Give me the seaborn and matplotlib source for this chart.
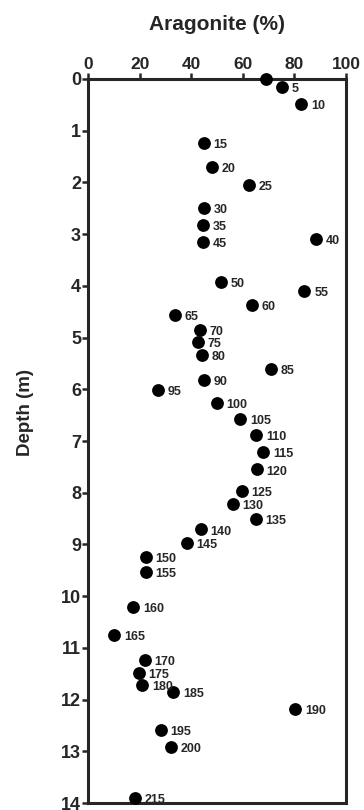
import matplotlib
matplotlib.use("Agg")
import matplotlib.pyplot as plt
import pandas as pd
import seaborn as sns

# sample number, aragonite (%), depth (m)
sample_ids = [0, 5, 10, 15, 20, 25, 30, 35, 40, 45, 50, 55, 60, 65, 70, 75, 80,
              85, 90, 95, 100, 105, 110, 115, 120, 125, 130, 135, 140, 145, 150,
              155, 160, 165, 170, 175, 180, 185, 190, 195, 200, 215]
aragonite = [69, 75, 82.6, 44.9, 48.2, 62.5, 44.8, 44.5, 88.4, 44.5, 51.5, 83.9,
             63.4, 33.7, 43.3, 42.7, 44.3, 70.8, 45.1, 27.2, 49.9, 59.0, 65.2,
             68.0, 65.4, 59.6, 56.1, 65.1, 43.6, 38.2, 22.4, 22.4, 17.5, 10.1,
             22.0, 19.6, 21.1, 33.0, 80.4, 28.2, 32.2, 18.3]
depth = [0.0, 0.16, 0.49, 1.24, 1.71, 2.05, 2.49, 2.82, 3.09, 3.16, 3.92, 4.09,
         4.37, 4.57, 4.86, 5.09, 5.33, 5.60, 5.82, 6.01, 6.26, 6.57, 6.88, 7.21,
         7.55, 7.97, 8.22, 8.51, 8.71, 8.98, 9.25, 9.54, 10.21, 10.75, 11.24,
         11.49, 11.72, 11.85, 12.18, 12.58, 12.92, 13.9]

x_ticks = [0, 20, 40, 60, 80, 100]
y_ticks = list(range(0, 15))

df = pd.DataFrame({"sample": sample_ids, "aragonite": aragonite, "depth": depth})

sns.set_style("ticks")
plt.rcParams["font.family"] = ["Liberation Sans Narrow", "Liberation Sans", "DejaVu Sans"]
plt.rcParams["font.weight"] = "bold"

fig = plt.figure(figsize=(3.64, 8.10), dpi=100)
ax = fig.add_axes([0.2418, 0.0086, 0.7088, 0.8939])

sns.scatterplot(data=df, x="aragonite", y="depth", ax=ax, s=85, color="black",
                edgecolor="black", linewidth=0, clip_on=False, zorder=3)

for _, row in df.iterrows():
    if row["sample"] == 0:
        continue
    ax.annotate(str(int(row["sample"])), (row["aragonite"], row["depth"]),
                xytext=(7, -1.5), textcoords="offset points", fontsize=9,
                fontweight="bold", ha="left", va="center")

ax.set_xlim(0, 100)
ax.set_ylim(14, 0)
ax.set_xticks(x_ticks)
ax.set_yticks(y_ticks)
ax.xaxis.tick_top()
ax.tick_params(axis="x", top=True, bottom=False, direction="out", length=4,
               width=1.8, labelsize=12.5, pad=1)
ax.tick_params(axis="y", direction="out", length=4, width=1.8, labelsize=13, pad=1)
for lab in ax.get_xticklabels() + ax.get_yticklabels():
    lab.set_fontweight("bold")

ax.set_xlabel("")
ax.set_ylabel("")
fig.text(217 / 364, 1 - 25 / 810, "Aragonite (%)", fontsize=15, fontweight="bold",
         ha="center", va="center")
fig.text(26 / 364, 1 - 412 / 810, "Depth (m)", fontsize=13.5, fontweight="bold",
         ha="center", va="center", rotation=90)

for side in ["top", "bottom", "left", "right"]:
    ax.spines[side].set_visible(True)
    ax.spines[side].set_linewidth(2.2)

fig.savefig("out.png", dpi=100)
